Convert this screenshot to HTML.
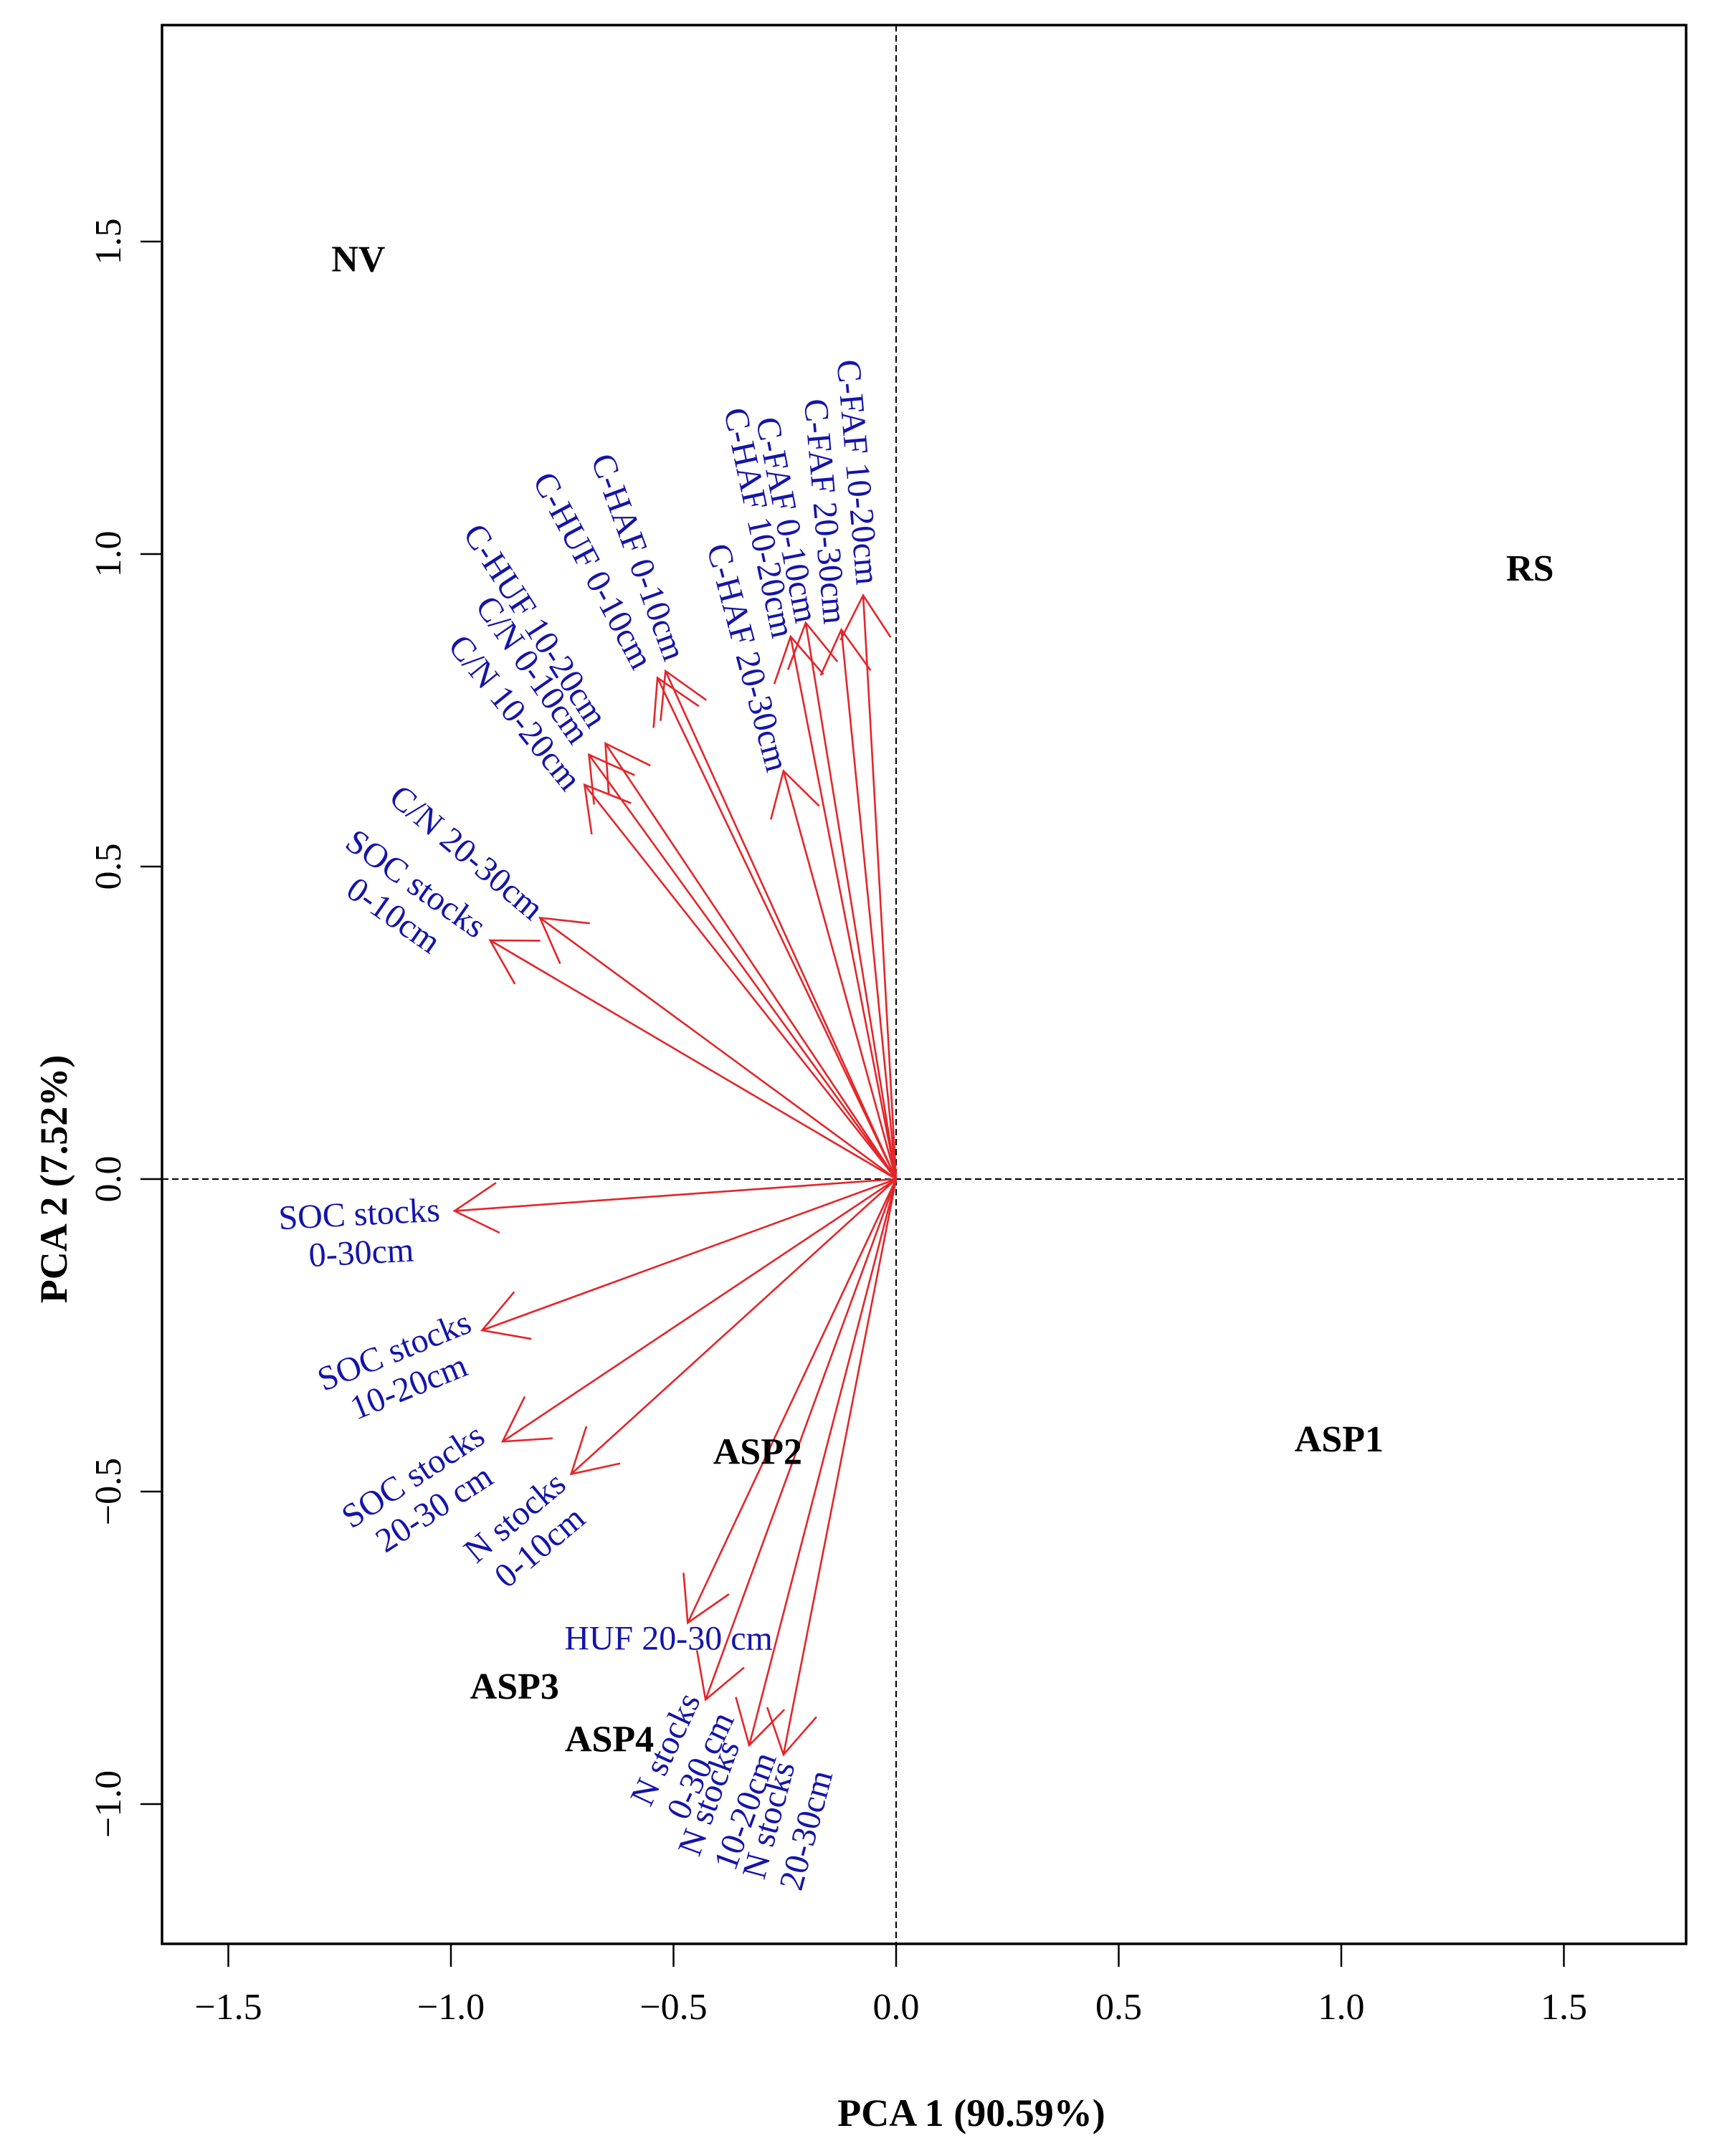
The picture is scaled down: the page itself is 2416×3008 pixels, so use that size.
<!DOCTYPE html>
<html><head><meta charset="utf-8"><style>
html,body{margin:0;padding:0;background:#fff}
svg{display:block}
text{font-family:"Liberation Serif",serif}
</style></head><body>
<svg id="chart" width="2416" height="3008" viewBox="0 0 2416 3008" xmlns="http://www.w3.org/2000/svg">
<rect x="0" y="0" width="2416" height="3008" fill="#fff"/>
<g id="axes"></g>
<g id="arrows"></g>
<g id="labels" fill="#1414aa" font-size="48"></g>
<g id="samples" font-size="52" font-weight="bold" fill="#000"></g>
</svg>
<script>
const varNames = ["C-FAF 10-20cm","C-FAF 20-30cm","C-FAF 0-10cm","C-HAF 10-20cm","C-HAF 20-30cm","C-HAF 0-10cm","C-HUF 0-10cm","C-HUF 10-20cm","C/N 0-10cm","C/N 10-20cm","C/N 20-30cm","SOC stocks 0-10cm","SOC stocks 0-30cm","SOC stocks 10-20cm","SOC stocks 20-30 cm","N stocks 0-10cm","HUF 20-30 cm","N stocks 0-30 cm","N stocks 10-20cm","N stocks 20-30cm"];
const pc1 = [-0.074,-0.123,-0.203,-0.237,-0.253,-0.518,-0.536,-0.653,-0.690,-0.700,-0.800,-0.912,-0.992,-0.930,-0.884,-0.730,-0.468,-0.428,-0.330,-0.253];
const pc2 = [0.934,0.879,0.890,0.868,0.653,0.813,0.802,0.697,0.679,0.631,0.418,0.382,-0.051,-0.242,-0.420,-0.472,-0.710,-0.833,-0.906,-0.921];
const sampleNames = ["NV","RS","ASP1","ASP2","ASP3","ASP4"];
const sampleX = [-1.208,1.424,0.995,-0.311,-0.857,-0.644];
const sampleY = [1.473,0.978,-0.415,-0.435,-0.811,-0.895];
const xTicks = [-1.5,-1.0,-0.5,0.0,0.5,1.0,1.5];
const yTicks = [-1.0,-0.5,0.0,0.5,1.0,1.5];

const NS="http://www.w3.org/2000/svg";
const L=226,R=2352,T=35,B=2712;
function X(v){return 1250+v*621;}
function Y(v){return 1645-v*872;}
function mk(tag,attrs,parent){const e=document.createElementNS(NS,tag);for(const k in attrs)e.setAttribute(k,attrs[k]);parent.appendChild(e);return e;}
const ax=document.getElementById('axes');
let e;
e=mk('line',{x1:X(0),y1:T,x2:X(0),y2:B,stroke:'#000','stroke-width':2,'stroke-dasharray':'9 5'},ax);


e=mk('line',{x1:L,y1:Y(0),x2:R,y2:Y(0),stroke:'#000','stroke-width':2,'stroke-dasharray':'9 5'},ax);


e=mk('rect',{x:L,y:T,width:R-L,height:B-T,fill:'none',stroke:'#000','stroke-width':3.5},ax);


xTicks.forEach(t=>{
  e=mk('line',{x1:X(t),y1:B,x2:X(t),y2:B+32,stroke:'#000','stroke-width':2.5},ax);
  
  
  e=mk('text',{x:X(t),y:B+105,'text-anchor':'middle','font-size':52},ax);
  e.textContent=(t<0?'\u2212':'')+Math.abs(t).toFixed(1);
  
  
});
yTicks.forEach(t=>{
  e=mk('line',{x1:L,y1:Y(t),x2:L-30,y2:Y(t),stroke:'#000','stroke-width':2.5},ax);
  
  
  e=mk('text',{x:0,y:0,'text-anchor':'middle','font-size':52,transform:`translate(168,${Y(t)}) rotate(-90)`},ax);
  e.textContent=(t<0?'\u2212':'')+Math.abs(t).toFixed(1);
  
  
});
e=mk('text',{x:1355,y:2966,'text-anchor':'middle','font-size':54,'font-weight':'bold'},ax);
e.textContent='PCA 1 (90.59%)';


e=mk('text',{x:0,y:0,'text-anchor':'middle','font-size':54,'font-weight':'bold',transform:'translate(93,1645) rotate(-90)'},ax);
e.textContent='PCA 2 (7.52%)';



const ar=document.getElementById('arrows');
for(let i=0;i<pc1.length;i++){
  const x0=X(0),y0=Y(0),x1=X(pc1[i]),y1=Y(pc2[i]);
  const ang=Math.atan2(y1-y0,x1-x0),hl=70,ha=Math.PI/6;
  const d=`M${x0},${y0}L${x1},${y1}M${x1-hl*Math.cos(ang-ha)},${y1-hl*Math.sin(ang-ha)}L${x1},${y1}L${x1-hl*Math.cos(ang+ha)},${y1-hl*Math.sin(ang+ha)}`;
  e=mk('path',{d:d,fill:'none',stroke:'#e3262a','stroke-width':2.6},ar);
  
  
}
const lab=document.getElementById('labels');
const labelDefs=[
 [["C-FAF 10-20cm"],1208,662,85],[["C-FAF 20-30cm"],1162,717,85],[["C-FAF 0-10cm"],1108,729,79],
 [["C-HAF 10-20cm"],1069,733,78],[["C-HAF 20-30cm"],1053,922,75],[["C-HAF 0-10cm"],899,781,70],
 [["C-HUF 0-10cm"],835,800,62],[["C-HUF 10-20cm"],754,877,57],[["C/N 0-10cm"],750,939,55],
 [["C/N 10-20cm"],725,999,51],[["C/N 20-30cm"],657,1195,40],[["SOC stocks","0-10cm"],570,1261,35],
 [["SOC stocks","0-30cm"],507,1729,-3],[["SOC stocks","10-20cm"],565,1919,-22],[["SOC stocks","20-30 cm"],596,2092,-33],
 [["N stocks","0-10cm"],742,2148,-40],[["HUF 20-30 cm"],941,2297,0],[["N stocks","0-30 cm"],961,2464,-65],
 [["N stocks","10-20cm"],1023,2530,-70],[["N stocks","20-30cm"],1108,2559,-75]];
labelDefs.forEach(([lines,cx,cy,rot])=>{
  const g=mk('g',{transform:`translate(${cx*0.991},${cy*0.995}) rotate(${rot})`},lab);
  
  
  const n=lines.length;
  lines.forEach((s,j)=>{
    const t=mk('text',{x:0,y:(j-(n-1)/2)*54+16,'text-anchor':'middle'},g);
    t.textContent=s;
  });
});
const sm=document.getElementById('samples');
for(let i=0;i<sampleNames.length;i++){
  e=mk('text',{x:X(sampleX[i]),y:Y(sampleY[i])+18,'text-anchor':'middle'},sm);
  e.textContent=sampleNames[i];
  
  
}
</script>
</body></html>
